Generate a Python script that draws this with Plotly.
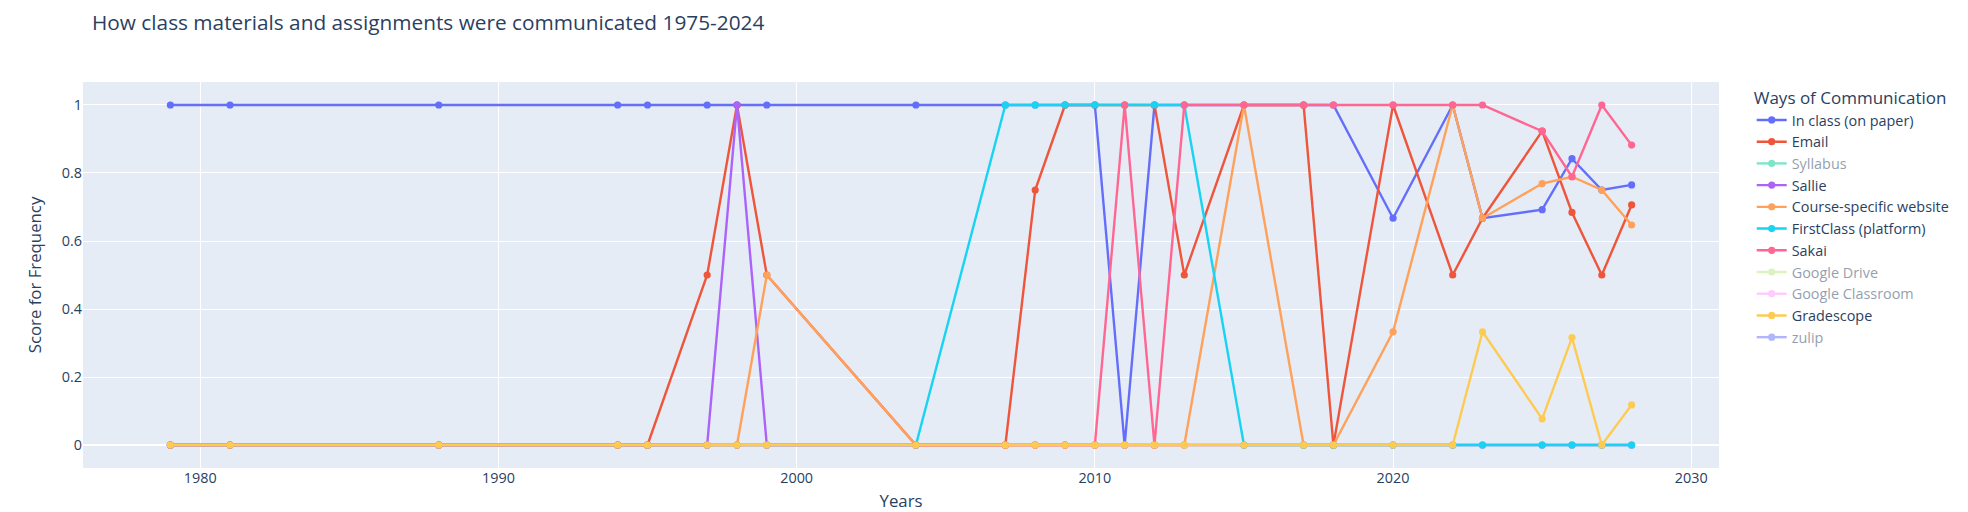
import plotly.graph_objects as go

years = [1979, 1981, 1988, 1994, 1995, 1997, 1998, 1999, 2004, 2007, 2008, 2009, 2010,
         2011, 2012, 2013, 2015, 2017, 2018, 2020, 2022, 2023, 2025, 2026, 2027, 2028]

in_class = [1, 1, 1, 1, 1, 1, 1, 1, 1, 1, 1, 1, 1,
            0, 1, 1, 1, 1, 1, 0.667, 1, 0.667, 0.692, 0.842, 0.75, 0.765]
email = [0, 0, 0, 0, 0, 0.5, 1, 0.5, 0, 0, 0.75, 1, 1,
         1, 1, 0.5, 1, 1, 0, 1, 0.5, 0.667, 0.923, 0.684, 0.5, 0.706]
syllabus = [0, 0, 0, 0, 0, 0, 0, 0, 0, 0, 0, 0, 0,
            0, 0, 0, 0, 0, 0, 0, 0, 0, 0, 0, 0, 0]
sallie = [0, 0, 0, 0, 0, 0, 1, 0, 0, 0, 0, 0, 0,
          0, 0, 0, 0, 0, 0, 0, 0, 0, 0, 0, 0, 0]
course_site = [0, 0, 0, 0, 0, 0, 0, 0.5, 0, 0, 0, 0, 0,
               0, 0, 0, 1, 0, 0, 0.333, 1, 0.667, 0.769, 0.789, 0.75, 0.647]
firstclass = [0, 0, 0, 0, 0, 0, 0, 0, 0, 1, 1, 1, 1,
              1, 1, 1, 0, 0, 0, 0, 0, 0, 0, 0, 0, 0]
sakai = [0, 0, 0, 0, 0, 0, 0, 0, 0, 0, 0, 0, 0,
         1, 0, 1, 1, 1, 1, 1, 1, 1, 0.923, 0.789, 1, 0.882]
google_drive = [0, 0, 0, 0, 0, 0, 0, 0, 0, 0, 0, 0, 0,
                0, 0, 0, 0, 0, 0, 0, 0, 0, 0, 0, 0, 0]
google_classroom = [0, 0, 0, 0, 0, 0, 0, 0, 0, 0, 0, 0, 0,
                    0, 0, 0, 0, 0, 0, 0, 0, 0, 0, 0, 0, 0]
gradescope = [0, 0, 0, 0, 0, 0, 0, 0, 0, 0, 0, 0, 0,
              0, 0, 0, 0, 0, 0, 0, 0, 0.333, 0.077, 0.316, 0, 0.118]
zulip = [0, 0, 0, 0, 0, 0, 0, 0, 0, 0, 0, 0, 0,
         0, 0, 0, 0, 0, 0, 0, 0, 0, 0, 0, 0, 0]

series = [
    ("In class (on paper)", in_class, True),
    ("Email", email, True),
    ("Syllabus", syllabus, "legendonly"),
    ("Sallie", sallie, True),
    ("Course-specific website", course_site, True),
    ("FirstClass (platform)", firstclass, True),
    ("Sakai", sakai, True),
    ("Google Drive", google_drive, "legendonly"),
    ("Google Classroom", google_classroom, "legendonly"),
    ("Gradescope", gradescope, True),
    ("zulip", zulip, "legendonly"),
]

fig = go.Figure()
for name, vals, vis in series:
    fig.add_trace(go.Scatter(x=years, y=vals, mode="lines+markers", name=name,
                             visible=vis, line=dict(width=2.4), marker=dict(size=7.2)))

W, H = 1960, 504
fig.update_layout(
    template="plotly",
    width=W, height=H,
    margin=dict(l=75, r=249, t=74, b=44),
    font=dict(size=14.4),
    title=dict(text="How class materials and assignments were communicated 1975-2024",
               x=84 / W, xanchor="left", xref="container",
               y=1 - 15 / H, yanchor="middle", yref="container",
               font=dict(size=20.8)),
    legend=dict(title=dict(text="Ways of Communication"), font=dict(size=14.4)),
    xaxis=dict(title=dict(text="Years", font=dict(size=16.8)),
               range=[1976.07, 2030.93], dtick=10, automargin=False),
    yaxis=dict(title=dict(text="Score for Frequency", font=dict(size=16.8)),
               range=[-0.0676, 1.0676], dtick=0.2, automargin=False),
)

fig.write_html("out.html")
